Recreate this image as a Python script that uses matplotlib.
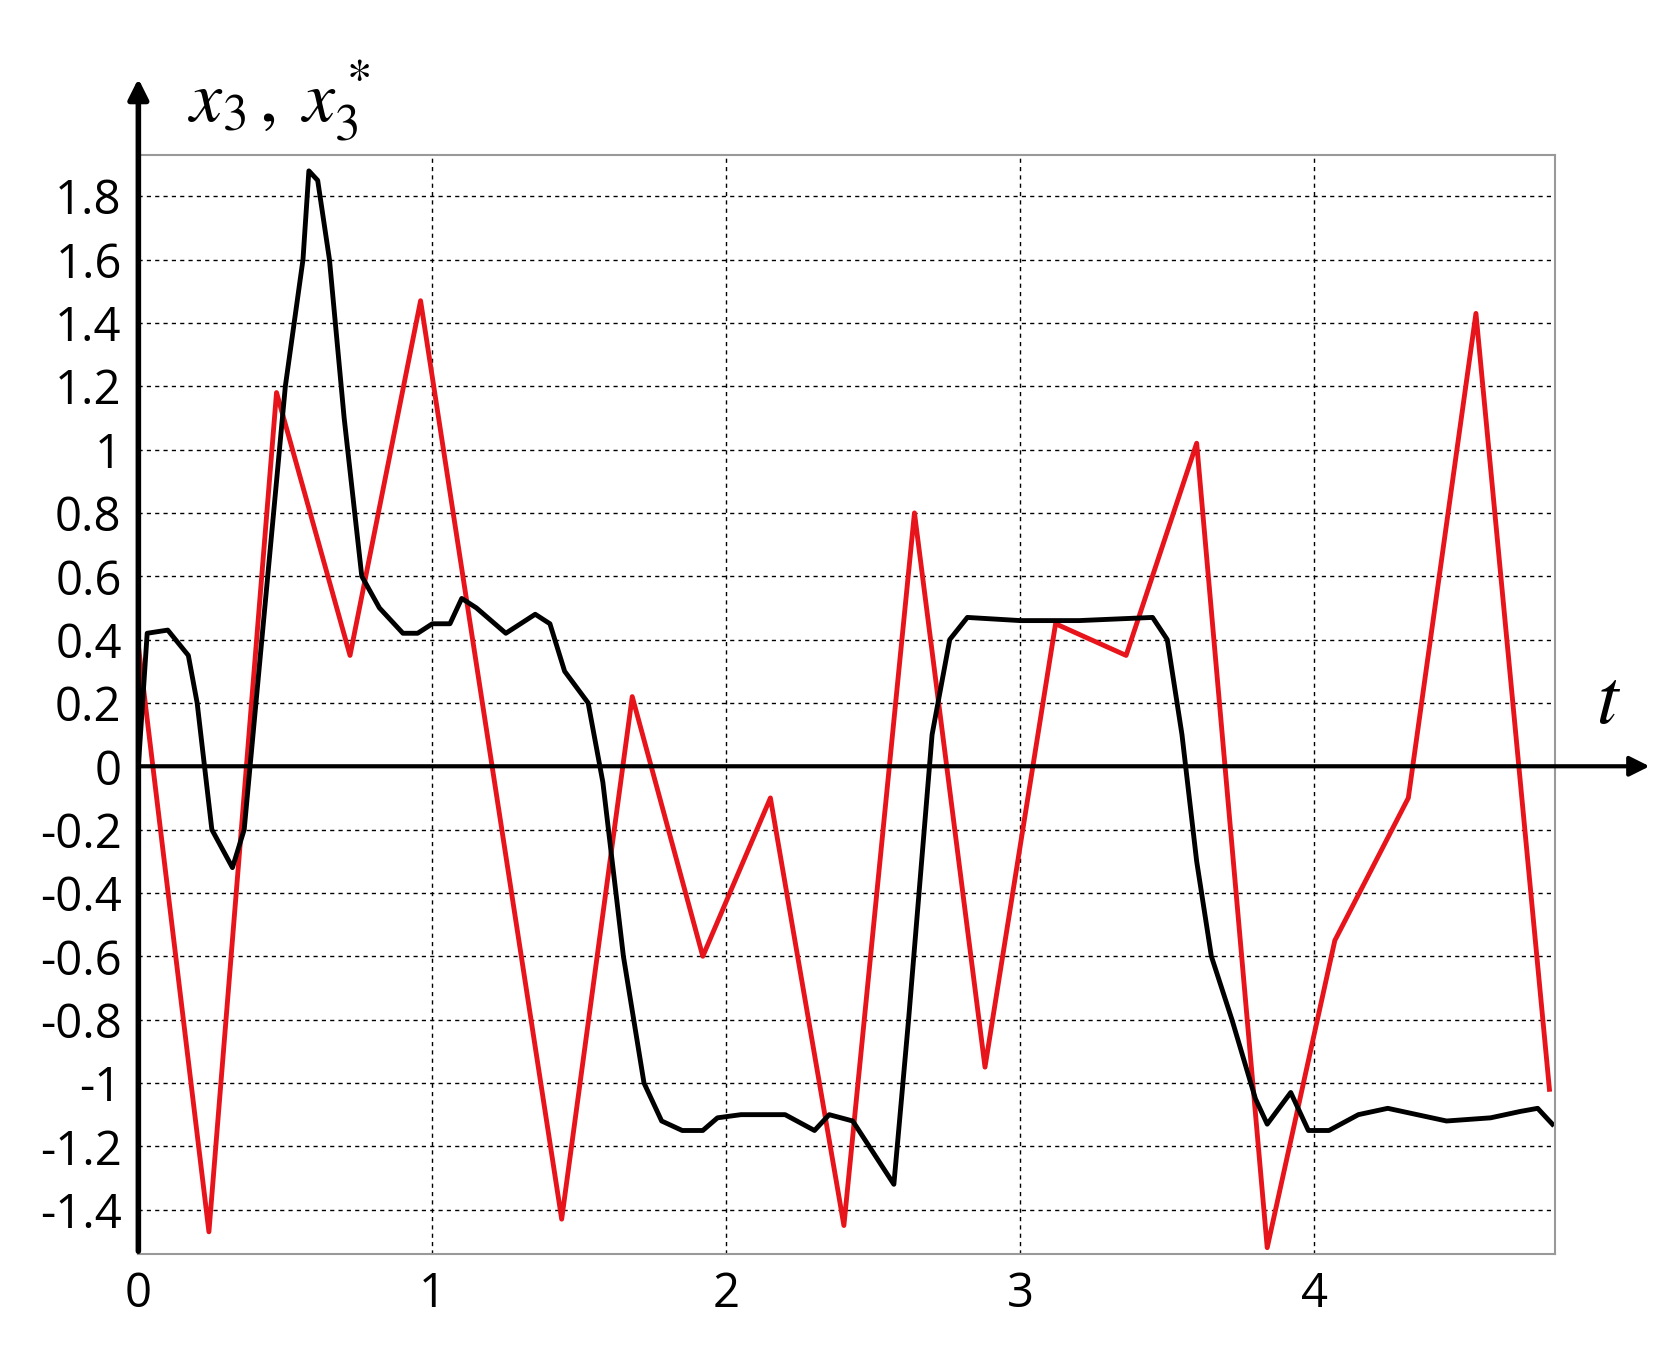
import matplotlib
matplotlib.use("Agg")
import matplotlib.pyplot as plt

plt.rcParams['font.family'] = ['Open Sans', 'DejaVu Sans']
plt.rcParams['mathtext.fontset'] = 'stix'

# red: reference x3*
red_t = [0, 0.24, 0.47, 0.72, 0.96, 1.44, 1.68, 1.92, 2.15, 2.4, 2.64, 2.88,
         3.12, 3.36, 3.6, 3.84, 4.07, 4.32, 4.55, 4.8]
red_y = [0.38, -1.47, 1.18, 0.35, 1.47, -1.43, 0.22, -0.6, -0.1, -1.45, 0.8, -0.95,
         0.45, 0.35, 1.02, -1.52, -0.55, -0.1, 1.43, -1.02]

# black: x3
blk_t = [0, 0.03, 0.1, 0.17, 0.2, 0.25, 0.32, 0.36, 0.42, 0.5, 0.56, 0.58, 0.61, 0.65,
         0.7, 0.76, 0.82, 0.9, 0.95, 1.0, 1.06, 1.1, 1.15, 1.25, 1.35, 1.4, 1.45, 1.53,
         1.58, 1.65, 1.72, 1.78, 1.85, 1.92, 1.97, 2.05, 2.2, 2.3, 2.35, 2.43, 2.5, 2.57,
         2.62, 2.7, 2.76, 2.82, 3.0, 3.2, 3.45, 3.5, 3.55, 3.6, 3.65, 3.72, 3.8, 3.84,
         3.88, 3.92, 3.98, 4.05, 4.15, 4.25, 4.35, 4.45, 4.6, 4.7, 4.76, 4.81]
blk_y = [0.0, 0.42, 0.43, 0.35, 0.2, -0.2, -0.32, -0.2, 0.4, 1.2, 1.6, 1.88, 1.85, 1.6,
         1.1, 0.6, 0.5, 0.42, 0.42, 0.45, 0.45, 0.53, 0.5, 0.42, 0.48, 0.45, 0.3, 0.2,
         -0.05, -0.6, -1.0, -1.12, -1.15, -1.15, -1.11, -1.1, -1.1, -1.15, -1.1, -1.12, -1.22, -1.32,
         -0.8, 0.1, 0.4, 0.47, 0.46, 0.46, 0.47, 0.4, 0.1, -0.3, -0.6, -0.8, -1.05, -1.13,
         -1.08, -1.03, -1.15, -1.15, -1.1, -1.08, -1.1, -1.12, -1.11, -1.09, -1.08, -1.13]

y_ticks = [-1.4, -1.2, -1, -0.8, -0.6, -0.4, -0.2, 0, 0.2, 0.4, 0.6, 0.8, 1, 1.2, 1.4, 1.6, 1.8]
y_labels = ['-1.4', '-1.2', '-1', '-0.8', '-0.6', '-0.4', '-0.2', '0', '0.2', '0.4',
            '0.6', '0.8', '1', '1.2', '1.4', '1.6', '1.8']
x_ticks = [0, 1, 2, 3, 4]

fig = plt.figure(figsize=(16.67, 13.72), dpi=100)
ax = fig.add_axes([0.083, 0.086, 0.85, 0.801])
ax.set_xlim(0, 4.82)
ax.set_ylim(-1.54, 1.93)

ax.plot(red_t, red_y, color='#e8141b', lw=3.5)
ax.plot(blk_t, blk_y, color='black', lw=3.5)

ax.set_xticks(x_ticks)
ax.set_yticks(y_ticks)
ax.set_yticklabels(y_labels)
ax.tick_params(labelsize=34, length=0, pad=12)
ax.grid(True, color='black', ls=(0, (3, 3)), lw=1)
for s in ax.spines.values():
    s.set_color('#999999')
    s.set_linewidth(1.5)

# axis arrows
ax.annotate('', xy=(0, 2.18), xytext=(0, -1.54), xycoords='data', annotation_clip=False,
            arrowprops=dict(arrowstyle='-|>', lw=4, color='black', mutation_scale=30))
ax.annotate('', xy=(5.15, 0), xytext=(0, 0), xycoords='data', annotation_clip=False,
            arrowprops=dict(arrowstyle='-|>', lw=3, color='black', mutation_scale=30))
ax.text(0.17, 2.1, r'$x_3\,,\;x_3^*$', fontsize=52, ha='left', va='center', clip_on=False)
ax.text(5.0, 0.2, r'$t$', fontsize=56, ha='center', va='center', clip_on=False)

fig.savefig('out.png', dpi=100)
